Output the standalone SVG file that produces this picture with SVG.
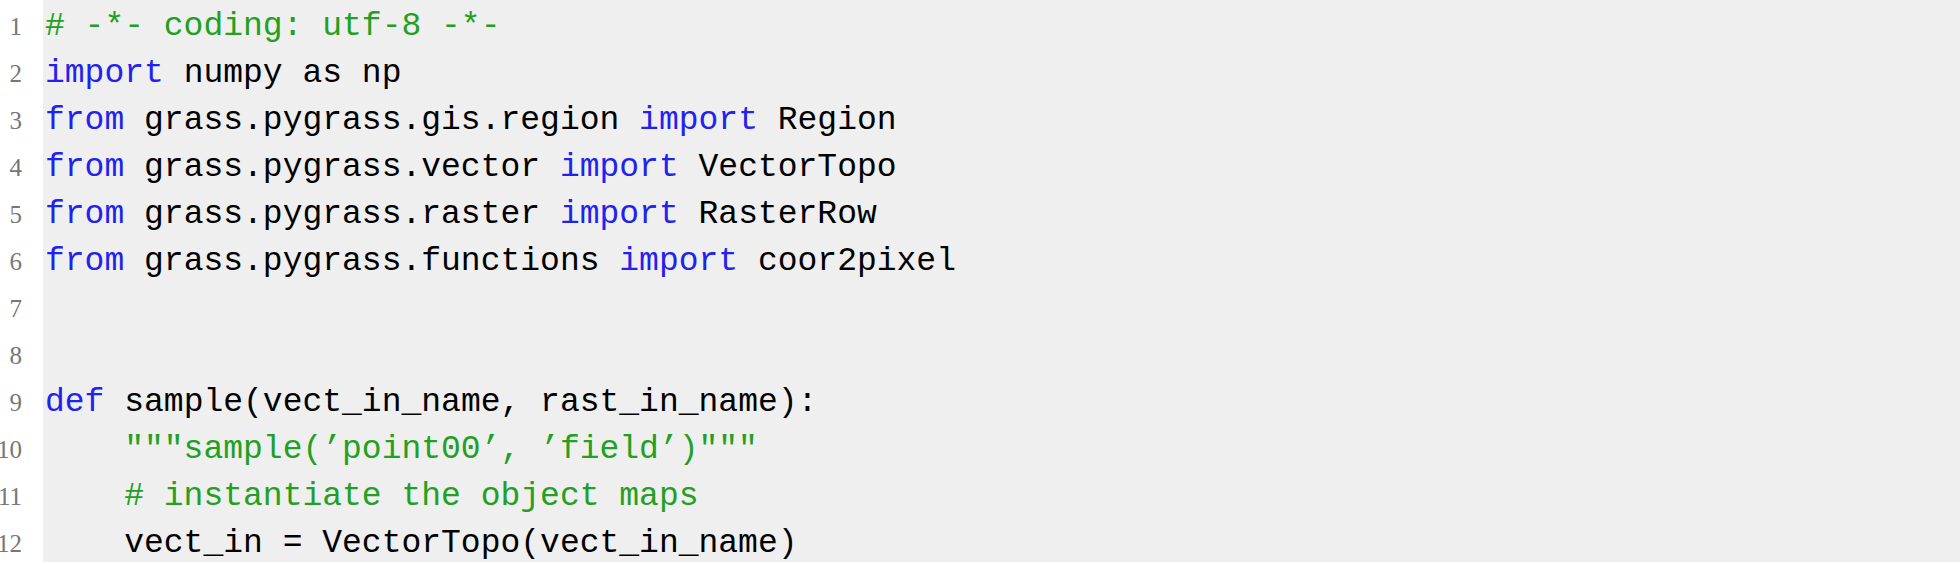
<svg xmlns="http://www.w3.org/2000/svg" width="1960" height="564" viewBox="0 0 1960 564">
<style>
.c{font-family:"Liberation Mono",monospace;font-size:33px;fill:#000;white-space:pre}
.k{fill:#2222ee}.g{fill:#22a022}
.n{font-family:"Liberation Serif",serif;font-size:25px;fill:#777;text-anchor:end}
</style>
<rect width="1960" height="564" fill="#fff"/>
<rect x="43" y="0" width="1917" height="562" fill="#efefef"/>
<g id="numbers">
<text class="n" x="22" y="35">1</text><text class="n" x="22" y="82">2</text><text class="n" x="22" y="129">3</text><text class="n" x="22" y="176">4</text><text class="n" x="22" y="223">5</text><text class="n" x="22" y="270">6</text><text class="n" x="22" y="317">7</text><text class="n" x="22" y="364">8</text><text class="n" x="22" y="411">9</text><text class="n" x="22" y="458">10</text><text class="n" x="22" y="505">11</text><text class="n" x="22" y="552">12</text>
</g>
<g id="code">
<text class="c g" x="45" y="35" xml:space="preserve"># -*- coding: utf-8 -*-</text>
<text class="c" x="45" y="82" xml:space="preserve"><tspan class="k">import</tspan> numpy as np</text>
<text class="c" x="45" y="129" xml:space="preserve"><tspan class="k">from</tspan> grass.pygrass.gis.region <tspan class="k">import</tspan> Region</text>
<text class="c" x="45" y="176" xml:space="preserve"><tspan class="k">from</tspan> grass.pygrass.vector <tspan class="k">import</tspan> VectorTopo</text>
<text class="c" x="45" y="223" xml:space="preserve"><tspan class="k">from</tspan> grass.pygrass.raster <tspan class="k">import</tspan> RasterRow</text>
<text class="c" x="45" y="270" xml:space="preserve"><tspan class="k">from</tspan> grass.pygrass.functions <tspan class="k">import</tspan> coor2pixel</text>
<text class="c" x="45" y="411" xml:space="preserve"><tspan class="k">def</tspan> sample(vect_in_name, rast_in_name):</text>
<text class="c g" x="45" y="458" xml:space="preserve">    """sample(’point00’, ’field’)"""</text>
<text class="c g" x="45" y="505" xml:space="preserve">    # instantiate the object maps</text>
<text class="c" x="45" y="552" xml:space="preserve">    vect_in = VectorTopo(vect_in_name)</text>
</g>
</svg>
